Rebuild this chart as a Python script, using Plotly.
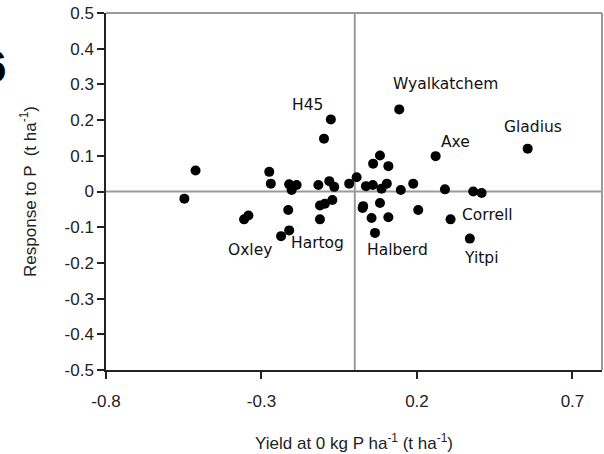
import plotly.graph_objects as go

# ---- data ----
yield_x = [-0.548, -0.512, -0.275, -0.270, -0.211, -0.187, -0.203, -0.214,
           -0.356, -0.342, -0.237, -0.211, -0.077, -0.099, -0.117, -0.082,
           -0.066, -0.112, -0.096, -0.072, -0.112, -0.018, 0.006, 0.143,
           0.556, 0.260, 0.081, 0.059, 0.108, 0.058, 0.103, 0.036, 0.086,
           0.148, 0.188, 0.290, 0.381, 0.408, 0.081, 0.025, 0.027, 0.054,
           0.108, 0.065, 0.204, 0.308, 0.370]
response_y = [-0.020, 0.059, 0.055, 0.022, 0.020, 0.018, 0.004, -0.052,
              -0.078, -0.067, -0.125, -0.109, 0.202, 0.148, 0.018, 0.029,
              0.013, -0.039, -0.034, -0.024, -0.078, 0.022, 0.040, 0.230,
              0.120, 0.099, 0.101, 0.078, 0.071, 0.018, 0.022, 0.015, 0.008,
              0.004, 0.022, 0.006, 0.000, -0.004, -0.032, -0.046, -0.041, -0.074,
              -0.072, -0.116, -0.052, -0.078, -0.132]
cultivar = ["", "", "", "", "", "", "", "",
            "Oxley", "", "", "", "H45", "", "", "",
            "", "", "", "", "Hartog", "", "", "Wyalkatchem",
            "Gladius", "Axe", "", "", "", "", "", "", "",
            "", "", "", "", "", "", "", "", "",
            "", "Halberd", "", "Correll", "Yitpi"]

x_tickvals = [-0.8, -0.3, 0.2, 0.7]
x_ticktext = ["-0.8", "-0.3", "0.2", "0.7"]
y_tickvals = [0.5, 0.4, 0.3, 0.2, 0.1, 0.0, -0.1, -0.2, -0.3, -0.4, -0.5]
y_ticktext = ["0.5", "0.4", "0.3", "0.2", "0.1", "0", "-0.1", "-0.2", "-0.3", "-0.4", "-0.5"]

# label offsets in pixels (style)
label_shift = {
    "H45": (-23, 14), "Oxley": (6, -31), "Hartog": (-2, -24),
    "Wyalkatchem": (46, 25), "Gladius": (5, 22), "Axe": (20, 14),
    "Correll": (37, 4), "Halberd": (23, -17), "Yitpi": (11, -19),
}

fig = go.Figure()
fig.add_trace(go.Scatter(
    x=yield_x, y=response_y, mode="markers",
    marker=dict(color="black", size=10, line=dict(width=0)),
    hoverinfo="skip", showlegend=False,
))

annotations = []
for xv, yv, name in zip(yield_x, response_y, cultivar):
    if name:
        dx, dy = label_shift[name]
        annotations.append(dict(
            x=xv, y=yv, xref="x", yref="y", text=name, showarrow=False,
            xshift=dx, yshift=dy, xanchor="center", yanchor="middle",
            font=dict(family="DejaVu Sans", size=15.5, color="#111"),
        ))

L, R, T, B = 106, 2, 13, 84
W, H = 604, 454
pw, ph = W - L - R, H - T - B

# cropped panel letter at the top-left edge
annotations.append(dict(
    x=(8 - L) / pw, y=(ph - (66 - T)) / ph, xref="paper", yref="paper",
    text="<b>6</b>", showarrow=False, xanchor="right", yanchor="middle",
    font=dict(family="Liberation Sans", size=44, color="black"),
))

shapes = [
    dict(type="line", xref="paper", yref="paper", x0=0, x1=1, y0=1, y1=1,
         line=dict(color="#9a9a9a", width=2)),
    dict(type="line", xref="paper", yref="paper", x0=1, x1=1, y0=0, y1=1,
         line=dict(color="#9a9a9a", width=2)),
    dict(type="line", xref="x", yref="paper", x0=0, x1=0, y0=0, y1=1,
         line=dict(color="#9a9a9a", width=2), layer="below"),
    dict(type="line", xref="paper", yref="y", x0=0, x1=1, y0=0, y1=0,
         line=dict(color="#9a9a9a", width=2), layer="below"),
]

fig.update_layout(
    width=W, height=H,
    margin=dict(l=L, r=R, t=T, b=B, autoexpand=False),
    paper_bgcolor="white", plot_bgcolor="white",
    font=dict(family="Liberation Sans", color="#222"),
    annotations=annotations, shapes=shapes,
    xaxis=dict(
        range=[-0.8, 0.795], tickmode="array", tickvals=x_tickvals, ticktext=x_ticktext,
        showgrid=False, zeroline=False, showline=True, linecolor="#222", linewidth=1.5,
        ticks="outside", ticklen=7, tickwidth=1.5, tickcolor="#222",
        tickfont=dict(size=17, color="#222"), automargin=False, ticklabelstandoff=8,
        title=dict(text="Yield at 0 kg P ha<sup>-1</sup> (t ha<sup>-1</sup>)",
                   font=dict(size=17, color="#222"), standoff=27),
    ),
    yaxis=dict(
        range=[-0.5, 0.5], tickmode="array", tickvals=y_tickvals, ticktext=y_ticktext,
        showgrid=False, zeroline=False, showline=True, linecolor="#222", linewidth=1.5,
        ticks="outside", ticklen=7, tickwidth=1.5, tickcolor="#222",
        tickfont=dict(size=17, color="#222"), automargin=False,
        title=dict(text="Response to P  (t ha<sup>-1</sup>)",
                   font=dict(size=17, color="#222"), standoff=24),
    ),
)

# remove the browser's default 8px body margin so the figure sits at the page origin
fig.write_html("out.html", config={"displayModeBar": False},
               post_script="document.body.style.margin='0';")
